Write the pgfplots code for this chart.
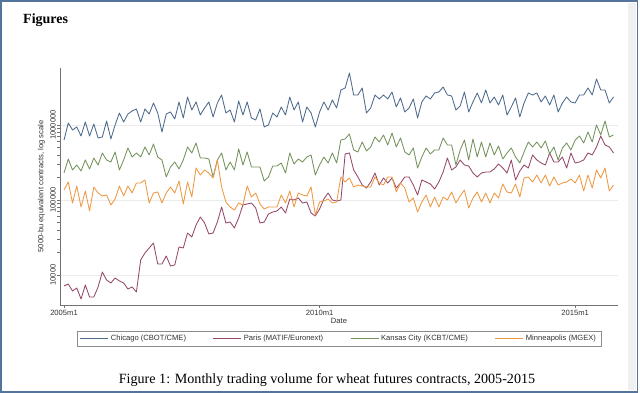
\documentclass[border=0pt]{standalone}
\usepackage{fontspec}
\setmainfont{Liberation Serif}
\setsansfont{Liberation Sans}
\usepackage{pgfplots}
\usepackage{pgfplotstable}
\pgfplotsset{compat=1.18}
\definecolor{cchi}{RGB}{78,106,140}
\definecolor{cpar}{RGB}{150,72,106}
\definecolor{ckc}{RGB}{116,146,92}
\definecolor{cmn}{RGB}{238,152,66}
\definecolor{cframe}{RGB}{84,116,158}
\pgfplotstableread{
t chi par kc mn
0 6.31e5 7.134e3 2.291e5 1.359e5
1 1.063e6 7.586e3 3.521e5 1.738e5
2 8.58e5 6.119e3 2.512e5 9.120e4
3 9.41e5 6.709e3 2.929e5 1.537e5
4 7.13e5 4.786e3 2.436e5 8.066e4
5 1.096e6 7.356e3 3.415e5 1.318e5
6 7.13e5 5.090e3 2.590e5 7.134e4
7 1.031e6 5.090e3 3.631e5 1.491e5
8 6.71e5 6.918e3 2.929e5 1.240e5
9 6.92e5 1.096e4 4.233e5 1.131e5
10 1.131e6 8.577e3 3.415e5 1.166e5
11 6.51e5 7.822e3 3.211e5 8.577e4
12 1.0e6 9.120e3 4.365e5 1.031e5
13 1.445e6 8.318e3 2.512e5 1.537e5
14 1.096e6 7.822e3 3.415e5 1.131e5
15 1.402e6 6.506e3 4.936e5 1.537e5
16 1.537e6 6.918e3 3.744e5 1.240e5
17 1.634e6 5.934e3 4.233e5 1.685e5
18 1.096e6 1.585e4 3.744e5 1.685e5
19 1.634e6 1.965e4 5.090e5 1.848e5
20 1.402e6 2.291e4 3.981e5 9.120e4
21 1.965e6 2.671e4 5.580e5 1.240e5
22 1.445e6 1.402e4 3.744e5 1.279e5
23 8.07e5 1.402e4 3.415e5 9.120e4
24 1.402e6 1.792e4 2.026e5 1.240e5
25 1.491e6 1.318e4 2.754e5 1.491e5
26 1.202e6 1.359e4 3.211e5 1.240e5
27 2.026e6 2.362e4 2.590e5 1.792e5
28 1.240e6 2.291e4 3.415e5 8.845e4
29 2.362e6 3.631e4 5.090e5 1.738e5
30 1.585e6 3.211e4 4.233e5 1.096e5
31 2.026e6 4.642e4 5.754e5 2.671e5
32 1.359e6 5.934e4 3.631e5 2.154e5
33 1.685e6 4.936e4 3.631e5 2.512e5
34 2.026e6 3.521e4 3.521e5 2.291e5
35 1.279e6 3.631e4 2.026e5 1.965e5
36 1.965e6 5.090e4 3.415e5 3.415e5
37 2.512e6 8.066e4 4.233e5 1.491e5
38 1.445e6 4.936e4 2.512e5 9.405e4
39 1.585e6 5.090e4 3.211e5 8.066e4
40 1.096e6 4.233e4 2.512e5 7.356e4
41 2.089e6 5.754e4 4.786e5 9.120e4
42 1.359e6 8.577e4 2.929e5 8.577e4
43 2.026e6 8.845e4 4.365e5 1.537e5
44 1.240e6 9.120e4 2.754e5 1.096e5
45 1.166e6 7.822e4 2.754e5 1.240e5
46 1.634e6 4.936e4 2.754e5 8.845e4
47 9.41e5 5.090e4 1.792e5 7.586e4
48 1.0e6 6.506e4 2.026e5 8.066e4
49 1.445e6 6.918e4 2.840e5 8.066e4
50 1.279e6 7.134e4 2.840e5 8.066e4
51 1.738e6 8.066e4 3.114e5 1.166e5
52 1.359e6 6.709e4 2.291e5 9.120e4
53 2.362e6 1.031e5 4.233e5 1.318e5
54 1.585e6 1.0e5 3.020e5 8.066e4
55 2.026e6 1.063e5 3.521e5 1.240e5
56 1.096e6 9.120e4 3.211e5 1.166e5
57 1.738e6 9.405e4 3.744e5 1.131e5
58 1.445e6 6.709e4 3.981e5 1.491e5
59 9.41e5 6.119e4 2.154e5 6.310e4
60 1.491e6 7.586e4 2.929e5 9.405e4
61 2.026e6 1.031e5 3.744e5 9.698e4
62 1.585e6 1.240e5 3.114e5 1.031e5
63 2.154e6 1.0e5 4.233e5 9.120e4
64 1.685e6 9.698e4 3.114e5 9.405e4
65 2.929e6 1.0e5 6.310e5 2.026e5
66 3.114e6 4.105e5 6.506e5 1.738e5
67 4.936e6 4.233e5 7.586e5 1.965e5
68 2.512e6 2.512e5 4.642e5 1.491e5
69 2.512e6 2.026e5 4.365e5 1.585e5
70 3.114e6 1.585e5 5.934e5 1.537e5
71 1.445e6 1.445e5 4.501e5 1.491e5
72 1.685e6 1.738e5 5.090e5 1.491e5
73 2.512e6 2.291e5 6.918e5 2.026e5
74 2.221e6 1.585e5 5.934e5 1.685e5
75 2.512e6 1.965e5 7.356e5 1.585e5
76 2.221e6 1.685e5 5.412e5 2.026e5
77 2.754e6 1.965e5 7.822e5 2.026e5
78 1.738e6 1.445e5 5.090e5 1.279e5
79 2.291e6 1.685e5 6.709e5 1.685e5
80 1.491e6 2.026e5 4.365e5 1.445e5
81 1.685e6 2.026e5 3.981e5 9.405e4
82 2.221e6 1.585e5 4.936e5 1.063e5
83 1.240e6 1.166e5 2.671e5 6.918e4
84 2.026e6 1.848e5 3.744e5 9.405e4
85 2.436e6 1.738e5 4.936e5 1.166e5
86 2.221e6 1.634e5 4.105e5 8.066e4
87 2.671e6 1.402e5 4.642e5 1.096e5
88 2.754e6 1.738e5 4.642e5 8.066e4
89 3.211e6 2.362e5 6.709e5 1.096e5
90 2.512e6 3.631e5 5.412e5 1.0e5
91 2.436e6 2.512e5 5.412e5 1.279e5
92 1.585e6 2.754e5 2.929e5 9.120e4
93 1.792e6 3.415e5 4.642e5 1.131e5
94 2.754e6 2.929e5 6.310e5 1.359e5
95 1.491e6 2.840e5 3.415e5 7.822e4
96 2.026e6 2.291e5 6.506e5 1.063e5
97 2.671e6 2.026e5 3.744e5 1.279e5
98 1.965e6 2.291e5 5.934e5 9.405e4
99 2.929e6 2.362e5 3.744e5 1.240e5
100 1.965e6 2.362e5 5.754e5 9.120e4
101 2.362e6 2.590e5 3.981e5 1.240e5
102 1.848e6 3.020e5 5.248e5 1.063e5
103 2.512e6 2.671e5 3.521e5 1.634e5
104 1.359e6 2.291e5 4.233e5 1.279e5
105 1.738e6 3.415e5 4.936e5 1.240e5
106 2.291e6 1.848e5 3.744e5 1.634e5
107 1.279e6 2.436e5 3.114e5 1.096e5
108 1.965e6 2.929e5 4.365e5 1.965e5
109 2.671e6 2.671e5 5.934e5 2.026e5
110 2.512e6 3.981e5 5.090e5 1.738e5
111 2.671e6 3.415e5 5.934e5 2.154e5
112 2.026e6 3.114e5 4.936e5 1.685e5
113 2.436e6 2.929e5 6.119e5 2.154e5
114 1.848e6 4.233e5 4.105e5 1.537e5
115 2.512e6 3.211e5 5.090e5 2.026e5
116 1.491e6 3.211e5 3.415e5 1.585e5
117 1.965e6 3.744e5 4.936e5 1.685e5
118 2.362e6 2.671e5 5.754e5 1.738e5
119 2.026e6 4.233e5 4.642e5 1.905e5
120 1.965e6 3.114e5 6.310e5 1.685e5
121 2.512e6 3.211e5 7.134e5 2.154e5
122 2.512e6 3.415e5 5.754e5 1.318e5
123 3.114e6 4.233e5 8.066e5 2.154e5
124 2.512e6 3.981e5 5.934e5 1.445e5
125 4.105e6 5.090e5 1.0e6 2.512e5
126 2.929e6 7.134e5 7.356e5 1.965e5
127 2.929e6 5.412e5 1.131e6 2.671e5
128 1.965e6 5.090e5 6.918e5 1.318e5
129 2.362e6 4.233e5 7.356e5 1.585e5
}\datatable
\begin{document}
\begin{tikzpicture}[x=1pt,y=1pt]
\useasboundingbox (0,0) rectangle (640,393);
\fill[white] (0,0) rectangle (640,393);
\fill[black!6] (628,3) rectangle (636,390);
\draw[cframe, line width=1.6pt] (1,1) rectangle (637.5,392);
\node[anchor=base west, font=\bfseries\fontsize{14}{16}\selectfont, inner sep=0pt] at (23,369) {Figures};
\begin{axis}[
  at={(60pt,88pt)}, anchor=south west,
  scale only axis, width=558pt, height=237pt,
  xmin=-0.94, xmax=130.05,
  ymode=log, ymin=3981, ymax=5.75e6,
  axis lines*=left,
  axis line style={black!55, line width=0.6pt},
  xtick={0,60,120}, xticklabels={2005m1,2010m1,2015m1},
  ytick={1e4,1e5,1e6}, yticklabels={10000,100000,1000000},
  minor ytick={},
  yticklabel style={rotate=90, anchor=south, inner sep=1pt},
  xticklabel style={inner sep=2.5pt},
  ymajorgrids, grid style={black!8, line width=0.5pt},
  tick style={black!55, line width=0.5pt},
  major tick length=3pt, tick align=outside,
  ticklabel style={font=\sffamily\fontsize{7.6}{9}\selectfont, text=black!80},
  xlabel={Date}, ylabel={5000-bu equivalent contracts, log scale},
  label style={font=\sffamily\fontsize{7.6}{9}\selectfont, text=black!80},
  xlabel style={yshift=4pt},
  ylabel style={yshift=1pt},
  clip=false,
  legend columns=4,
  legend style={at={(0.5,-0.11)}, anchor=north, draw=black!45, line width=0.6pt,
    font=\sffamily\fontsize{7.6}{9}\selectfont, text=black!80,
    inner xsep=3pt, inner ysep=2pt,
    /tikz/every even column/.append style={column sep=25pt}},
  legend image code/.code={\draw[#1] (0pt,0pt) -- (28pt,0pt);},
  every axis plot/.append style={line width=0.85pt, line join=round},
]
\addplot[cchi] table[x=t,y=chi] {\datatable};
\addlegendentry{Chicago (CBOT/CME)}
\addplot[cpar] table[x=t,y=par] {\datatable};
\addlegendentry{Paris (MATIF/Euronext)}
\addplot[ckc] table[x=t,y=kc] {\datatable};
\addlegendentry{Kansas City (KCBT/CME)}
\addplot[cmn] table[x=t,y=mn] {\datatable};
\addlegendentry{Minneapolis (MGEX)}
\end{axis}
\node[anchor=base, font=\fontsize{14.1}{16}\selectfont, inner sep=0pt] at (327,9) {Figure 1: Monthly trading volume for wheat futures contracts, 2005-2015};
\end{tikzpicture}
\end{document}
